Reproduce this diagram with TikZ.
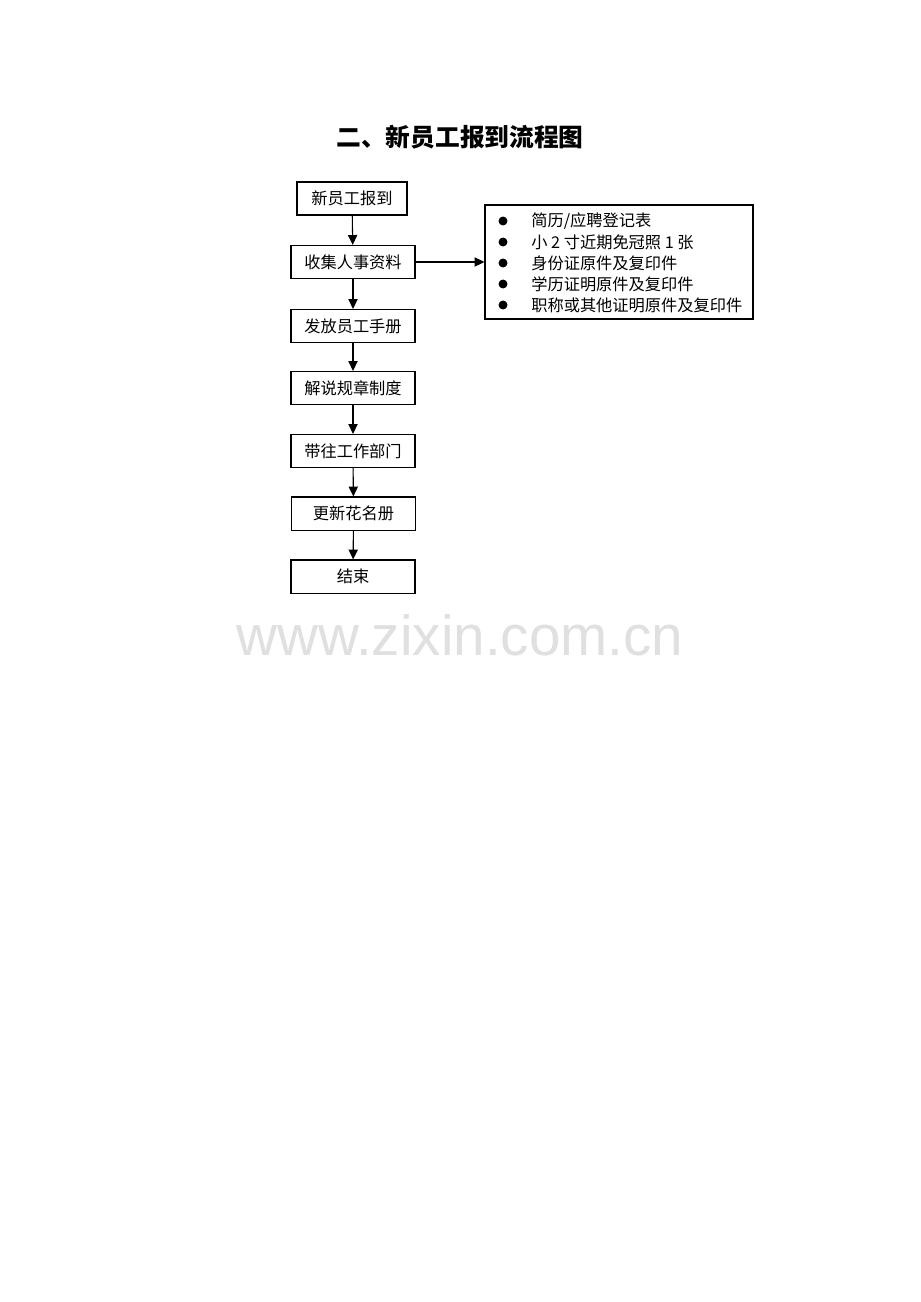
\documentclass[tikz,border=0pt]{standalone}
\usepackage{fontspec}
\setmainfont{Noto Sans CJK SC}
\newfontfamily\wmfont{Liberation Sans}
\usetikzlibrary{arrows.meta}
\tikzset{
  flowbox/.style={draw, line width=0.7pt, minimum width=80.2pt, minimum height=21.4pt, inner sep=0pt, font=\fontsize{10.5pt}{12pt}\selectfont},
  flowarrow/.style={draw, line width=0.7pt, -{Triangle[length=6.4pt,width=6pt]}},
  listtext/.style={anchor=west, inner sep=0pt, font=\fontsize{10.5pt}{12pt}\selectfont},
  bulletdot/.style={fill, circle, minimum size=5.8pt, inner sep=0pt}
}
\begin{document}
\begin{tikzpicture}[x=0.6470pt, y=-0.6470pt]
\useasboundingbox (0,0) rectangle (920,1302);
\fill[white] (0,0) rectangle (920,1302);
% watermark
\node[text=black!12, font=\wmfont\fontsize{36.6pt}{40pt}\selectfont, inner sep=0pt] (wm) at (460,635) {www.zixin.com.cn};
% title
\node[font=\fontsize{16pt}{19pt}\selectfont\bfseries, inner sep=0pt] (title) at (460,137) {二、新员工报到流程图};
% flow
\node[flowbox, minimum width=71.2pt] (b1) at (352,198.5) {新员工报到};
\node[flowbox] (b2) at (353,262) {收集人事资料};
\node[flowbox] (b3) at (353,326) {发放员工手册};
\node[flowbox] (b4) at (353,388) {解说规章制度};
\node[flowbox] (b5) at (353,451) {带往工作部门};
\node[flowbox] (b6) at (353.5,513.5) {更新花名册};
\node[flowbox] (b7) at (353,576.5) {结束};
\draw[flowarrow] (b1) -- (b2);
\draw[flowarrow] (b2) -- (b3);
\draw[flowarrow] (b3) -- (b4);
\draw[flowarrow] (b4) -- (b5);
\draw[flowarrow] (b5) -- (b6);
\draw[flowarrow] (b6) -- (b7);
% list box
\node[draw, line width=0.7pt, minimum width=173.4pt, minimum height=73.8pt, inner sep=0pt] (lst) at (619,262) {};
\draw[flowarrow] (b2.east) -- (lst.west);
\node[bulletdot] (d1) at (503,221) {};
\node[bulletdot] (d2) at (503,242) {};
\node[bulletdot] (d3) at (503,263) {};
\node[bulletdot] (d4) at (503,284) {};
\node[bulletdot] (d5) at (503,305) {};
\node[listtext] (t1) at (531,221) {简历/应聘登记表};
\node[listtext] (t2) at (531,242) {小 2 寸近期免冠照 1 张};
\node[listtext] (t3) at (531,263) {身份证原件及复印件};
\node[listtext] (t4) at (531,284) {学历证明原件及复印件};
\node[listtext] (t5) at (531,305) {职称或其他证明原件及复印件};
\end{tikzpicture}
\end{document}
